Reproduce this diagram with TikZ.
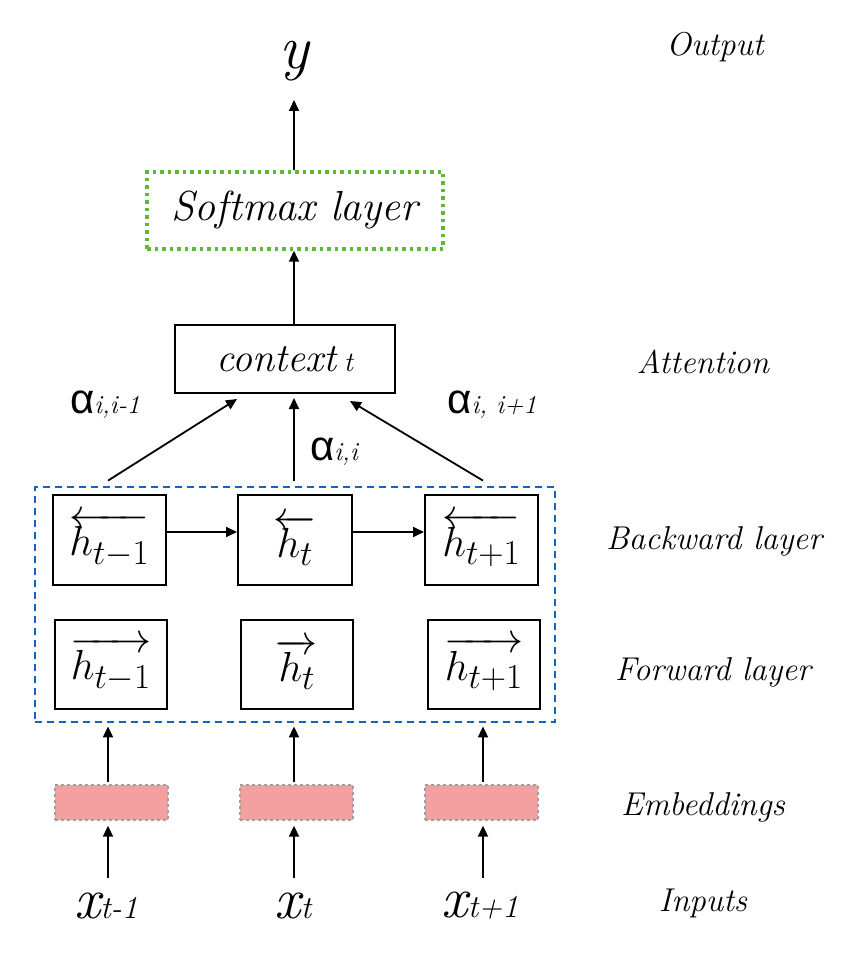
\documentclass[tikz,border=0pt]{standalone}
\usepackage[no-math]{fontspec}
\newfontfamily\sansalpha{Liberation Sans}
\usetikzlibrary{arrows.meta,calc}
\definecolor{sgreen}{RGB}{96,185,50}
\definecolor{dblue}{RGB}{21,101,192}
\definecolor{epink}{RGB}{245,160,160}
\tikzset{
  arr/.style={line width=1.8pt,-{Triangle[length=11pt,width=10pt]}},
  hbox/.style={draw,line width=2pt,minimum width=112pt,minimum height=89pt,inner sep=0pt,
    font=\fontsize{24.88}{30}\selectfont},
  embbox/.style={fill=epink,draw=gray!75,dashed,line width=1.3pt,minimum width=113pt,
    minimum height=35pt,inner sep=0pt},
  lab/.style={font=\fontsize{33}{38}\selectfont\itshape,inner sep=0pt},
  alab/.style={inner sep=0pt},
  inp/.style={inner sep=0pt},
}
\newcommand{\hm}[1]{\scalebox{1.69}{$#1$}}
\newcommand{\alf}[1]{{\sansalpha\fontsize{42}{50}\selectfont α}{\fontsize{26}{30}\selectfont\itshape #1}}
\newcommand{\inx}[1]{{\fontsize{58}{60}\selectfont\itshape x}{\fontsize{32}{36}\selectfont\itshape #1}}
\begin{document}
\begin{tikzpicture}[x=1pt,y=-1pt]
\useasboundingbox (0,0) rectangle (850,965);

% output and softmax
\node[inner sep=0pt,font=\fontsize{62}{70}\selectfont\itshape] (y) at (294,61) {y};
\node[draw=sgreen,line width=3.5pt,dash pattern=on 3.5pt off 4pt,minimum width=296pt,
  minimum height=77pt,inner sep=0pt,font=\fontsize{42}{50}\selectfont\itshape]
  (soft) at (295,210.5) {Softmax layer};
\draw[arr] (soft.north -| 294,0) -- (294,100) coordinate (ytip);

% context
\node[draw,line width=2pt,minimum width=220pt,minimum height=68pt,inner sep=0pt]
  (ctx) at (285,359) {{\fontsize{40}{48}\selectfont\itshape context}\hspace{7pt}{\fontsize{28}{30}\selectfont\itshape t}};
\draw[arr] (ctx.north -| 294,0) -- (soft.south -| 294,0);

% hidden layers
\node[draw=dblue,line width=2.8pt,dash pattern=on 7pt off 5pt,minimum width=520pt,
  minimum height=235pt,inner sep=0pt] (bi) at (295,604.5) {};

\node[hbox,minimum width=113pt,minimum height=90pt] (b1) at (109.5,540) {\hm{\overleftarrow{h_{t-1}}}};
\node[hbox,minimum width=114pt,minimum height=90pt] (b2) at (295,540) {\hm{\overleftarrow{h_{t}}}};
\node[hbox,minimum width=113pt,minimum height=90pt] (b3) at (481.5,540) {\hm{\overleftarrow{h_{t+1}}}};
\node[hbox] (f1) at (111,664) {\hm{\overrightarrow{h_{t-1}}}};
\node[hbox] (f2) at (297,664) {\hm{\overrightarrow{h_{t}}}};
\node[hbox] (f3) at (484,664) {\hm{\overrightarrow{h_{t+1}}}};

\draw[arr] ([yshift=8pt]b1.east) -- ([yshift=8pt]b2.west);
\draw[arr] ([yshift=8pt]b2.east) -- ([yshift=8pt]b3.west);

% attention arrows
\coordinate (s1) at (bi.north -| 108,0);
\coordinate (s2) at (bi.north -| 294,0);
\coordinate (s3) at (bi.north -| 483,0);
\draw[arr] ([yshift=5pt]s1) -- ([xshift=-48pt,yshift=-5pt]ctx.south);
\draw[arr] ([yshift=5pt]s2) -- ([xshift=9pt,yshift=-4pt]ctx.south);
\draw[arr] ([yshift=5pt]s3) -- ([xshift=65pt,yshift=-7pt]ctx.south);

\node[alab] (a1) at (105,405) {\alf{i,i-1}};
\node[alab] (a2) at (334,452) {\alf{i,i}};
\node[alab] (a3) at (492,405) {\alf{i, i+1}};

% embeddings
\node[embbox] (e1) at (111.5,802.5) {};
\node[embbox] (e2) at (296.5,802.5) {};
\node[embbox] (e3) at (481.5,802.5) {};
\draw[arr] ([yshift=2pt]e1.north -| 108,0) -- ([yshift=-3pt]bi.south -| 108,0);
\draw[arr] ([yshift=2pt]e2.north -| 294,0) -- ([yshift=-3pt]bi.south -| 294,0);
\draw[arr] ([yshift=2pt]e3.north -| 483,0) -- ([yshift=-3pt]bi.south -| 483,0);

% inputs
\node[inp] (x1) at (106,906) {\inx{t-1}};
\node[inp] (x2) at (293,906) {\inx{t}};
\node[inp] (x3) at (480,906) {\inx{t+1}};
\draw[arr] (108,878) coordinate (c1) -- ([yshift=-5pt]e1.south -| c1);
\draw[arr] (294,878) coordinate (c2) -- ([yshift=-5pt]e2.south -| c2);
\draw[arr] (483,878) coordinate (c3) -- ([yshift=-5pt]e3.south -| c3);

% right labels
\node[lab] (lo) at (715,47) {Output};
\node[lab] (la) at (703,362) {Attention};
\node[lab] (lb) at (714,541) {Backward layer};
\node[lab] (lf) at (713,672) {Forward layer};
\node[lab] (le) at (703,807) {Embeddings};
\node[lab] (li) at (703,903) {Inputs};
\end{tikzpicture}
\end{document}
